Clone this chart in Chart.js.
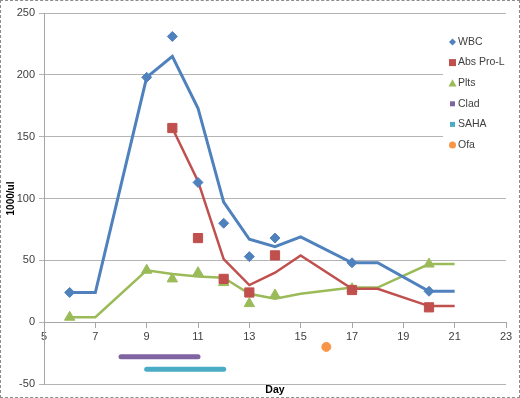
<!DOCTYPE html>
<html lang="en">
<head>
<meta charset="UTF-8" />
<title>WBC, Abs Pro-L and Plts by day</title>
<style>
  body { margin: 0; background: #fff; }
  .frame {
    width: 520px;
    height: 398px;
    box-sizing: border-box;
    border: 1px dashed #8c8c8c;
    background: #fff;
  }
  canvas { display: block; }
</style>
<script src="https://cdn.jsdelivr.net/npm/chart.js@4.4.0/dist/chart.umd.min.js"></script>
</head>
<body>
<div class="frame"><canvas id="chart" width="518" height="396"></canvas></div>
<script>
// legend names
const seriesNames = ["WBC", "Abs Pro-L", "Plts", "Clad", "SAHA", "Ofa"];

// axis ticks
const dayTicks = [5, 7, 9, 11, 13, 15, 17, 19, 21, 23];
const valueTicks = [-50, 0, 50, 100, 150, 200, 250];

// measured points (1000/ul)
const wbcDays = [6, 9, 10, 11, 12, 13, 14, 17, 20];
const wbcValues = [24, 198, 231, 113, 80, 53, 68, 48, 25];
const proDays = [10, 11, 12, 13, 14, 17, 20];
const proValues = [157, 68, 35, 24, 54, 26, 12];
const pltDays = [6, 9, 10, 11, 12, 13, 14, 17, 20];
const pltValues = [4, 42, 35, 40, 32, 15, 22, 27, 47];

// trend lines as drawn
const wbcLineDays = [6, 7, 9, 10, 11, 12, 13, 14, 15, 17, 18, 20, 21];
const wbcLineValues = [24, 24, 198, 215, 173, 97, 67, 61, 69, 48, 48, 25, 25];
const proLineDays = [10, 11, 12, 13, 14, 15, 17, 18, 20, 21];
const proLineValues = [157, 114, 51, 30, 40, 54, 27, 27, 13, 13];
const pltLineDays = [6, 7, 9, 10, 11, 12, 13, 14, 15, 17, 18, 20, 21];
const pltLineValues = [4, 4, 42, 39, 37, 36, 23, 19, 23, 28, 28, 47, 47];

// treatment periods and single dose
const cladDays = [8, 11];
const cladValues = [-28, -28];
const sahaDays = [9, 12];
const sahaValues = [-38, -38];
const ofaDays = [16];
const ofaValues = [-20];

const colors = {
  wbc: "#4f81bd",
  pro: "#c0504d",
  plt: "#9bbb59",
  clad: "#8064a2",
  saha: "#4bacc6",
  ofa: "#f79646",
};

function pts(xs, ys) {
  return xs.map((x, i) => ({ x: x, y: ys[i] }));
}

function markers(label, xs, ys, color, style, radius) {
  return {
    label: label,
    data: pts(xs, ys),
    pointStyle: style,
    pointRadius: radius,
    pointHoverRadius: radius,
    pointBackgroundColor: color,
    pointBorderColor: color,
    pointBorderWidth: 1,
    showLine: false,
    order: 1,
  };
}

function trend(label, xs, ys, color, width) {
  return {
    label: label,
    data: pts(xs, ys),
    showLine: true,
    borderColor: color,
    borderWidth: width,
    pointRadius: 0,
    pointHoverRadius: 0,
    tension: 0,
    order: 2,
  };
}

function bar(label, xs, ys, color) {
  const d = trend(label, xs, ys, color, 5);
  d.borderCapStyle = "round";
  return d;
}

// legend marker for each name
const legendMarks = [
  { style: "diamond", color: colors.wbc, r: 3.5 },
  { style: "square", color: colors.pro, r: 3.5 },
  { style: "triangle", color: colors.plt, r: 4 },
  { style: "square", color: colors.clad, r: 2.5 },
  { style: "square", color: colors.saha, r: 2.5 },
  { style: "circle", color: colors.ofa, r: 3.5 },
];

function drawMark(ctx, m, x, y) {
  ctx.fillStyle = m.color;
  ctx.beginPath();
  if (m.style === "diamond") {
    ctx.moveTo(x, y - m.r);
    ctx.lineTo(x + m.r, y);
    ctx.lineTo(x, y + m.r);
    ctx.lineTo(x - m.r, y);
    ctx.closePath();
  } else if (m.style === "square") {
    ctx.rect(x - m.r, y - m.r, m.r * 2, m.r * 2);
  } else if (m.style === "triangle") {
    ctx.moveTo(x, y - m.r);
    ctx.lineTo(x + m.r, y + m.r * 0.8);
    ctx.lineTo(x - m.r, y + m.r * 0.8);
    ctx.closePath();
  } else {
    ctx.arc(x, y, m.r, 0, Math.PI * 2);
  }
  ctx.fill();
}

const boxLegend = {
  id: "boxLegend",
  afterDraw(chart) {
    const ctx = chart.ctx;
    ctx.save();
    ctx.fillStyle = "#fff";
    ctx.fillRect(442, 26, 63, 134);
    ctx.font = "10.5px 'Liberation Sans', Arial, sans-serif";
    ctx.textBaseline = "middle";
    ctx.textAlign = "left";
    seriesNames.forEach((name, i) => {
      const y = 41 + i * 20.6;
      drawMark(ctx, legendMarks[i], 451.5, y);
      ctx.fillStyle = "#404040";
      ctx.fillText(name, 457, y);
    });
    ctx.restore();
  },
};

const tickFont = { family: "'Liberation Sans', Arial, sans-serif", size: 11 };

new Chart(document.getElementById("chart"), {
  type: "scatter",
  data: {
    datasets: [
      markers(seriesNames[0], wbcDays, wbcValues, colors.wbc, "rectRot", 5),
      markers(seriesNames[1], proDays, proValues, colors.pro, "rect", 6.5),
      markers(seriesNames[2], pltDays, pltValues, colors.plt, "triangle", 6),
      bar(seriesNames[3], cladDays, cladValues, colors.clad),
      bar(seriesNames[4], sahaDays, sahaValues, colors.saha),
      markers(seriesNames[5], ofaDays, ofaValues, colors.ofa, "circle", 4.5),
      trend("WBC trend", wbcLineDays, wbcLineValues, colors.wbc, 3),
      trend("Abs Pro-L trend", proLineDays, proLineValues, colors.pro, 2.5),
      trend("Plts trend", pltLineDays, pltLineValues, colors.plt, 2.5),
    ],
  },
  options: {
    responsive: false,
    animation: false,
    layout: { padding: { top: 12, right: 13, left: 0, bottom: 0 } },
    plugins: {
      legend: { display: false },
      tooltip: { enabled: false },
    },
    scales: {
      x: {
        type: "linear",
        min: 5,
        max: 23,
        position: { y: 0 },
        afterBuildTicks: (s) => {
          s.ticks = dayTicks.map((v) => ({ value: v }));
        },
        ticks: { color: "#404040", font: tickFont, padding: 3, maxRotation: 0 },
        grid: { drawOnChartArea: false, drawTicks: true, tickLength: 5, color: "#a6a6a6" },
        border: { color: "#a6a6a6" },
      },
      xTitle: {
        type: "linear",
        position: "bottom",
        axis: "x",
        afterFit: (s) => {
          s.height = 13;
        },
        ticks: { display: false },
        grid: { display: false },
        border: { display: false },
        title: {
          display: true,
          text: "Day",
          color: "#000",
          font: { family: "'Liberation Sans', Arial, sans-serif", size: 10.5, weight: "bold" },
          padding: { top: 0, bottom: 1 },
        },
      },
      y: {
        type: "linear",
        min: -50,
        max: 250,
        afterBuildTicks: (s) => {
          s.ticks = valueTicks.map((v) => ({ value: v }));
        },
        afterFit: (s) => {
          s.width = 43;
        },
        ticks: { color: "#404040", font: tickFont, padding: 4 },
        grid: { color: "#b4b4b4", tickLength: 5 },
        border: { color: "#a6a6a6" },
        title: {
          display: true,
          text: "1000/ul",
          color: "#000",
          font: { family: "'Liberation Sans', Arial, sans-serif", size: 10, weight: "bold" },
        },
      },
    },
  },
  plugins: [boxLegend],
});
</script>
</body>
</html>
